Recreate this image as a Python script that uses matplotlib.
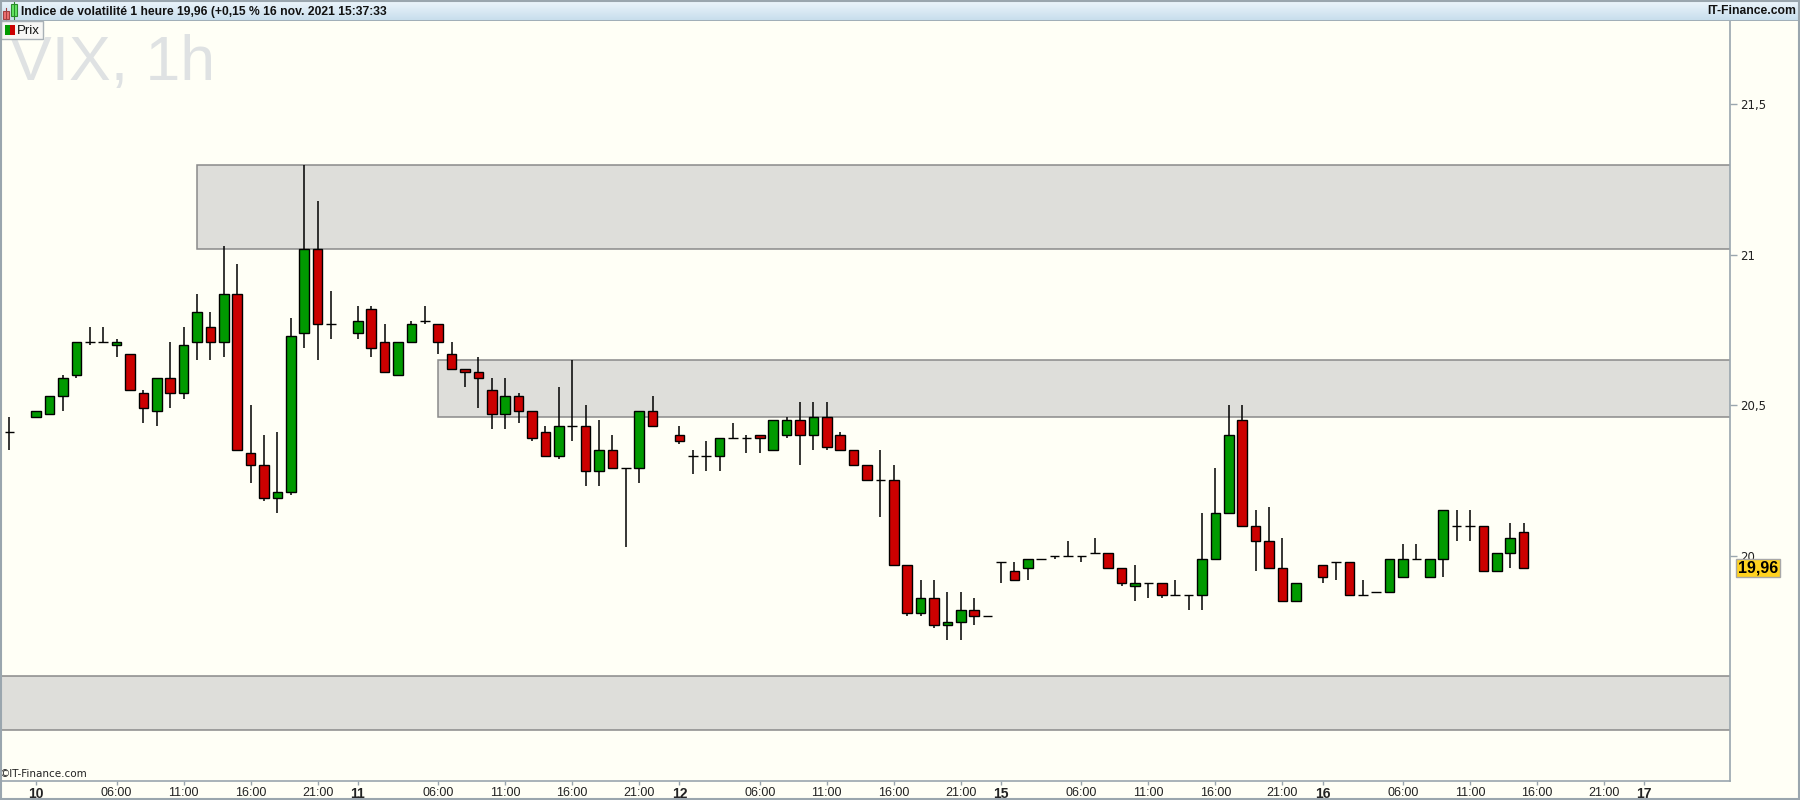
import matplotlib
matplotlib.use('agg')
import matplotlib.pyplot as plt
import matplotlib.transforms as mtransforms
from matplotlib.patches import Rectangle
from matplotlib.ticker import FuncFormatter
import numpy as np

# hourly bar index (bar 2 = 10 nov 00:00, week-end removed)
bar = [0, 2, 3, 4, 5, 6, 7, 8, 9, 10, 11, 12, 13, 14, 15, 16, 17, 18, 19, 20,
       21, 22, 23, 24, 26, 27, 28, 29, 30, 31, 32, 33, 34, 35, 36, 37, 38, 39, 40, 41,
       42, 43, 44, 45, 46, 47, 48, 50, 51, 52, 53, 54, 55, 56, 57, 58, 59, 60, 61, 62,
       63, 64, 65, 66, 67, 68, 69, 70, 71, 72, 73, 74, 75, 76, 77, 78, 79, 80, 81, 82,
       83, 84, 85, 86, 87, 88, 89, 90, 91, 92, 93, 94, 95, 96, 98, 99, 100, 101, 102, 103,
       104, 105, 106, 107, 108, 109, 110, 111, 112, 113]
opens = [20.41, 20.46, 20.47, 20.53, 20.60, 20.71, 20.71, 20.70, 20.67, 20.54,
         20.48, 20.59, 20.54, 20.71, 20.76, 20.71, 20.87, 20.34, 20.30, 20.19,
         20.21, 20.74, 21.02, 20.77, 20.74, 20.82, 20.71, 20.60, 20.71, 20.78,
         20.77, 20.67, 20.62, 20.61, 20.55, 20.47, 20.53, 20.48, 20.41, 20.33,
         20.43, 20.43, 20.28, 20.35, 20.29, 20.29, 20.48, 20.40, 20.33, 20.33,
         20.33, 20.39, 20.39, 20.40, 20.35, 20.40, 20.45, 20.40, 20.46, 20.40,
         20.35, 20.30, 20.25, 20.25, 19.97, 19.81, 19.86, 19.77, 19.78, 19.82,
         19.80, 19.98, 19.95, 19.96, 19.99, 20.00, 20.00, 20.00, 20.01, 20.01,
         19.96, 19.90, 19.91, 19.91, 19.87, 19.87, 19.87, 19.99, 20.14, 20.45,
         20.10, 20.05, 19.96, 19.85, 19.97, 19.98, 19.98, 19.87, 19.88, 19.88,
         19.93, 19.99, 19.93, 19.99, 20.10, 20.10, 20.10, 19.95, 20.01, 20.08]
highs = [20.46, 20.48, 20.53, 20.60, 20.71, 20.76, 20.76, 20.72, 20.67, 20.55,
         20.59, 20.71, 20.76, 20.87, 20.81, 21.03, 20.97, 20.50, 20.40, 20.41,
         20.79, 21.30, 21.18, 20.88, 20.83, 20.83, 20.77, 20.71, 20.78, 20.83,
         20.77, 20.71, 20.62, 20.66, 20.59, 20.59, 20.54, 20.48, 20.43, 20.56,
         20.65, 20.50, 20.45, 20.40, 20.29, 20.48, 20.53, 20.43, 20.35, 20.38,
         20.39, 20.44, 20.40, 20.40, 20.45, 20.46, 20.51, 20.51, 20.51, 20.41,
         20.35, 20.30, 20.35, 20.30, 19.97, 19.92, 19.92, 19.88, 19.88, 19.86,
         19.80, 19.98, 19.98, 19.99, 19.99, 20.00, 20.05, 20.00, 20.06, 20.01,
         19.96, 19.97, 19.91, 19.91, 19.92, 19.87, 20.14, 20.29, 20.50, 20.50,
         20.15, 20.16, 20.06, 19.91, 19.97, 19.98, 19.98, 19.92, 19.88, 19.99,
         20.04, 20.04, 19.99, 20.15, 20.15, 20.15, 20.10, 20.01, 20.11, 20.11]
lows = [20.35, 20.46, 20.47, 20.48, 20.59, 20.70, 20.71, 20.66, 20.55, 20.44,
        20.43, 20.49, 20.52, 20.65, 20.65, 20.66, 20.35, 20.24, 20.18, 20.14,
        20.20, 20.69, 20.65, 20.72, 20.72, 20.66, 20.61, 20.60, 20.71, 20.77,
        20.67, 20.62, 20.56, 20.49, 20.42, 20.42, 20.44, 20.38, 20.33, 20.32,
        20.38, 20.23, 20.23, 20.29, 20.03, 20.24, 20.43, 20.37, 20.27, 20.28,
        20.28, 20.39, 20.34, 20.34, 20.35, 20.39, 20.30, 20.35, 20.35, 20.35,
        20.30, 20.25, 20.13, 19.97, 19.80, 19.80, 19.76, 19.72, 19.72, 19.77,
        19.80, 19.91, 19.92, 19.92, 19.99, 19.99, 20.00, 19.98, 20.01, 19.96,
        19.90, 19.85, 19.86, 19.86, 19.87, 19.82, 19.82, 19.99, 20.14, 20.10,
        19.95, 19.96, 19.85, 19.85, 19.91, 19.92, 19.87, 19.87, 19.88, 19.88,
        19.93, 19.99, 19.93, 19.93, 20.05, 20.05, 19.95, 19.95, 19.96, 19.96]
closes = [20.41, 20.48, 20.53, 20.59, 20.71, 20.71, 20.71, 20.71, 20.55, 20.49,
          20.59, 20.54, 20.70, 20.81, 20.71, 20.87, 20.35, 20.30, 20.19, 20.21,
          20.73, 21.02, 20.77, 20.77, 20.78, 20.69, 20.61, 20.71, 20.77, 20.78,
          20.71, 20.62, 20.61, 20.59, 20.47, 20.53, 20.48, 20.39, 20.33, 20.43,
          20.43, 20.28, 20.35, 20.29, 20.29, 20.48, 20.43, 20.38, 20.33, 20.33,
          20.39, 20.39, 20.39, 20.39, 20.45, 20.45, 20.40, 20.46, 20.36, 20.35,
          20.30, 20.25, 20.25, 19.97, 19.81, 19.86, 19.77, 19.78, 19.82, 19.80,
          19.80, 19.98, 19.92, 19.99, 19.99, 20.00, 20.00, 20.00, 20.01, 19.96,
          19.91, 19.91, 19.91, 19.87, 19.87, 19.87, 19.99, 20.14, 20.40, 20.10,
          20.05, 19.96, 19.85, 19.91, 19.93, 19.98, 19.87, 19.87, 19.88, 19.99,
          19.99, 19.99, 19.99, 20.15, 20.10, 20.10, 19.95, 20.01, 20.06, 19.96]

# grey zones: first bar, low, high
zone_start = [14, 32, -5]
zone_low = [21.02, 20.46, 19.42]
zone_high = [21.30, 20.65, 19.60]

tick_pos = [2, 8, 13, 18, 23, 26, 32, 37, 42, 47, 50, 56, 61, 66, 71,
            74, 80, 85, 90, 95, 98, 104, 109, 114, 119, 122]
tick_lab = ['10', '06:00', '11:00', '16:00', '21:00', '11', '06:00', '11:00', '16:00', '21:00',
            '12', '06:00', '11:00', '16:00', '21:00', '15', '06:00', '11:00', '16:00', '21:00',
            '16', '06:00', '11:00', '16:00', '21:00', '17']
day_labels = {'10', '11', '12', '15', '16', '17'}

last_price = 19.96
title = 'Indice de volatilité 1 heure 19,96 (+0,15 % 16 nov. 2021 15:37:33'

BG = '#fffff6'
GREEN = '#009a00'
RED = '#cc0000'
AXC = '#9aa6ae'
plt.rcParams['font.family'] = ['Liberation Sans', 'DejaVu Sans']

W, H = 1800, 800
fig = plt.figure(figsize=(18, 8), dpi=100, facecolor=BG)

top_px, bot_px, left_px, right_px = 21, 781, 2, 1730
ax = fig.add_axes([left_px / W, 1 - bot_px / H, (right_px - left_px) / W, (bot_px - top_px) / H])
ax.set_facecolor(BG)
ax.set_xlim(-0.55, 128.4)
ax.set_ylim(19.2507, 21.7773)

# zones
for s, lo, hi in zip(zone_start, zone_low, zone_high):
    ax.add_patch(Rectangle((s, lo), 200, hi - lo, facecolor='#dededa', edgecolor='#8a8a8a',
                           linewidth=1.1, zorder=1))

# watermark
ax.text(10 / W, 1 - 80 / H, 'VIX, 1h', transform=fig.transFigure, fontsize=45,
        color='#dfe2e3', va='baseline', ha='left', zorder=0.5)

# candles
o = np.array(opens); c = np.array(closes)
colors = [GREEN if cc > oo else RED for oo, cc in zip(o, c)]
ax.vlines(bar, lows, highs, color='black', linewidth=1.1, zorder=2)
ax.bar(bar, np.abs(c - o), bottom=np.minimum(o, c), width=0.72, color=colors,
       edgecolor='black', linewidth=1.0, zorder=3)

# axes styling
for side in ['top', 'left']:
    ax.spines[side].set_visible(False)
for side in ['right', 'bottom']:
    ax.spines[side].set_color(AXC)
    ax.spines[side].set_linewidth(1.2)
ax.yaxis.tick_right()
ax.set_yticks([20, 20.5, 21, 21.5])
ax.yaxis.set_major_formatter(FuncFormatter(lambda v, p: ('%g' % v).replace('.', ',')))
ax.tick_params(axis='y', direction='out', length=5, width=1, color=AXC, pad=2,
               labelsize=8.5, labelcolor='#222222')
ax.set_xticks(tick_pos)
ax.set_xticklabels(tick_lab)
ax.tick_params(axis='x', direction='out', length=3, width=1, color=AXC, pad=1,
               labelsize=9, labelcolor='#222222')
for t in ax.get_xticklabels():
    if t.get_text() in day_labels:
        t.set_fontweight('bold')
        t.set_fontsize(10)
for t in ax.get_yticklabels():
    t.set_family(['DejaVu Sans'])

# last price label
tr = mtransforms.blended_transform_factory(ax.transAxes, ax.transData)
ax.text(1.0045, last_price, ('%.2f' % last_price).replace('.', ','), transform=tr,
        fontsize=11.5, fontweight='bold', va='center', ha='left', color='black', zorder=10,
        clip_on=False,
        bbox=dict(boxstyle='square,pad=0.1', facecolor='#ffd21f', edgecolor='#a8a8a8', linewidth=1))

ax.text(0.0, 1 - 777 / H, '\u00a9IT-Finance.com', transform=fig.transFigure, fontsize=7.5,
        va='baseline', ha='left', color='#222222', zorder=0.6, family=['DejaVu Sans'])

# header bar
hd = fig.add_axes([0, 1 - top_px / H, 1, top_px / H])
grad = np.linspace(0, 1, 50).reshape(-1, 1)
cmap = matplotlib.colors.LinearSegmentedColormap.from_list('hd', ['#eef6fc', '#c6ddec'])
hd.imshow(grad, aspect='auto', cmap=cmap, extent=[0, W, top_px, 0])
hd.set_xlim(0, W); hd.set_ylim(top_px, 0)
hd.axis('off')
hd.add_patch(Rectangle((3, 11), 6, 8, facecolor='#f07070', edgecolor='#a04040', linewidth=0.8))
hd.plot([6, 6], [8, 20], color='#a04040', linewidth=0.8)
hd.add_patch(Rectangle((11, 4), 6, 12, facecolor='#66e866', edgecolor='#2a8a2a', linewidth=0.8))
hd.plot([14, 14], [1, 19], color='#2a8a2a', linewidth=0.8)
hd.text(21, 11.5, title, fontsize=8.7, fontweight='bold', va='center', ha='left', color='#111111')
hd.text(1796, 11.5, 'IT-Finance.com', fontsize=8.7, fontweight='bold', va='center', ha='right',
        color='#111111')
hd.axhline(top_px - 0.5, color=AXC, linewidth=1.2)

# overlay: "Prix" box and outer border
ov = fig.add_axes([0, 0, 1, 1], zorder=5)
ov.set_xlim(0, W); ov.set_ylim(H, 0)
ov.axis('off')
ov.patch.set_visible(False)
ov.add_patch(Rectangle((1, 21), 42, 18, facecolor='#f6f6f4', edgecolor='#a8b0b6', linewidth=1))
ov.add_patch(Rectangle((5, 25), 5, 10, facecolor=GREEN, edgecolor='none'))
ov.add_patch(Rectangle((10, 25), 5, 10, facecolor=RED, edgecolor='none'))
ov.text(17, 30.5, 'Prix', fontsize=9.5, va='center', ha='left', color='#111111')
ov.add_patch(Rectangle((0.5, 0.5), W - 2, H - 2, facecolor='none', edgecolor=AXC, linewidth=1.5))

fig.savefig('out.png', dpi=100, facecolor=BG)
